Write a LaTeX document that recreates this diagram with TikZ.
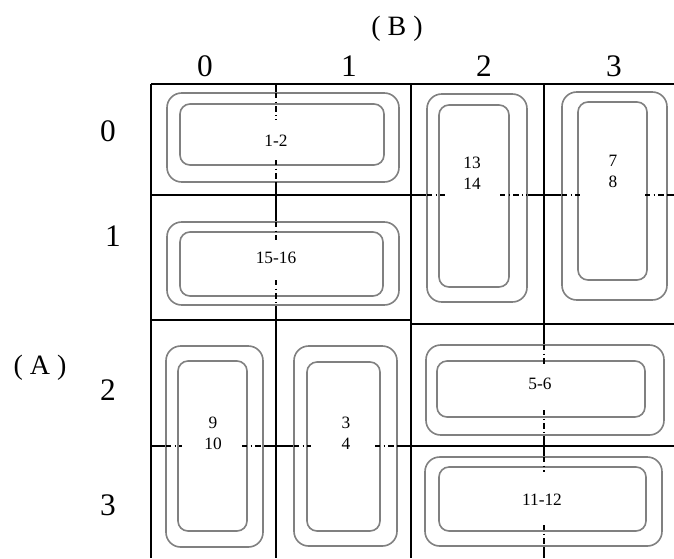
\documentclass[tikz,border=0pt]{standalone}
\usepackage{fontspec}
\setmainfont{Liberation Serif}
\begin{document}
\begin{tikzpicture}[x=0.75pt,y=-0.75pt,
  gridline/.style={line width=1.3pt, black},
  divider/.style={line width=1.3pt, black, dash pattern=on 4pt off 2.5pt on 0.9pt off 2.5pt},
  outerbox/.style={draw=gray, line width=1.2pt, fill=white, rounded corners=11pt},
  innerbox/.style={draw=gray, line width=1.2pt, rounded corners=7.5pt},
  celltext/.style={font=\fontsize{13}{15.75}\selectfont, align=center, inner sep=0pt},
  collabel/.style={font=\fontsize{23.5}{26}\selectfont, inner sep=0pt},
  rowlabel/.style={font=\fontsize{23.5}{26}\selectfont, inner sep=0pt},
  axislabel/.style={font=\fontsize{21}{24}\selectfont, inner sep=0pt}]
\useasboundingbox (0,0) rectangle (674,558);

% grid of cells
\draw[gridline] (151,84) -- (674,84);
\draw[gridline] (151,84) -- (151,558);
\draw[gridline] (276,84) -- (276,558);
\draw[gridline] (411,84) -- (411,558);
\draw[gridline] (544,84) -- (544,558);
\draw[gridline] (151,195) -- (674,195);
\draw[gridline] (151,320) -- (411,320);
\draw[gridline] (411,324) -- (674,324);
\draw[gridline] (151,446) -- (674,446);

% plots: outer and inner outlines
\draw[outerbox] (167,93) rectangle (399,182);
\draw[innerbox] (180,104) rectangle (384,165);
\draw[outerbox] (167,222) rectangle (399,305);
\draw[innerbox] (180,232) rectangle (383,296);
\draw[outerbox] (427,94) rectangle (527,302);
\draw[innerbox] (439,105) rectangle (509,287);
\draw[outerbox] (562,92) rectangle (667,300);
\draw[innerbox] (578,102) rectangle (647,280);
\draw[outerbox] (166,346) rectangle (263,547);
\draw[innerbox] (178,361) rectangle (247,531);
\draw[outerbox] (294,346) rectangle (397,546);
\draw[innerbox] (307,362) rectangle (380,531);
\draw[outerbox] (426,345) rectangle (664,435);
\draw[innerbox] (437,361) rectangle (645,417);
\draw[outerbox] (425,457) rectangle (662,546);
\draw[innerbox] (439,467) rectangle (646,531);

% cell borders crossing the plots
\draw[divider] (276,93) -- (276,120);
\draw[divider] (276,160) -- (276,182);
\draw[divider] (276,222) -- (276,240);
\draw[divider] (276,280) -- (276,305);
\draw[divider] (427,195) -- (445,195);
\draw[divider] (500,195) -- (527,195);
\draw[divider] (562,195) -- (580,195);
\draw[divider] (645,195) -- (674,195);
\draw[divider] (166,446) -- (182,446);
\draw[divider] (242,446) -- (263,446);
\draw[divider] (294,446) -- (311,446);
\draw[divider] (375,446) -- (397,446);
\draw[divider] (544,345) -- (544,365);
\draw[divider] (544,410) -- (544,435);
\draw[divider] (544,457) -- (544,472);
\draw[divider] (544,525) -- (544,546);

% treatment numbers
\node[celltext] (t12) at (276,141) {1-2};
\node[celltext] (t1516) at (276,258) {15-16};
\node[celltext] (t1314) at (472,173.5) {13\\14};
\node[celltext] (t78) at (613,171.5) {7\\8};
\node[celltext] (t910) at (213,433) {9\\10};
\node[celltext] (t34) at (346,433) {3\\4};
\node[celltext] (t56) at (540,384) {5-6};
\node[celltext] (t1112) at (542,500) {11-12};

% axis labels
\node[axislabel] (axB) at (397,29) {( B )};
\node[collabel] (c0) at (205,66) {0};
\node[collabel] (c1) at (349,66) {1};
\node[collabel] (c2) at (484,66) {2};
\node[collabel] (c3) at (614,66) {3};
\node[axislabel] (axA) at (40,368) {( A )};
\node[rowlabel] (r0) at (108,131) {0};
\node[rowlabel] (r1) at (113,236) {1};
\node[rowlabel] (r2) at (108,390) {2};
\node[rowlabel] (r3) at (108,505) {3};
\end{tikzpicture}
\end{document}
